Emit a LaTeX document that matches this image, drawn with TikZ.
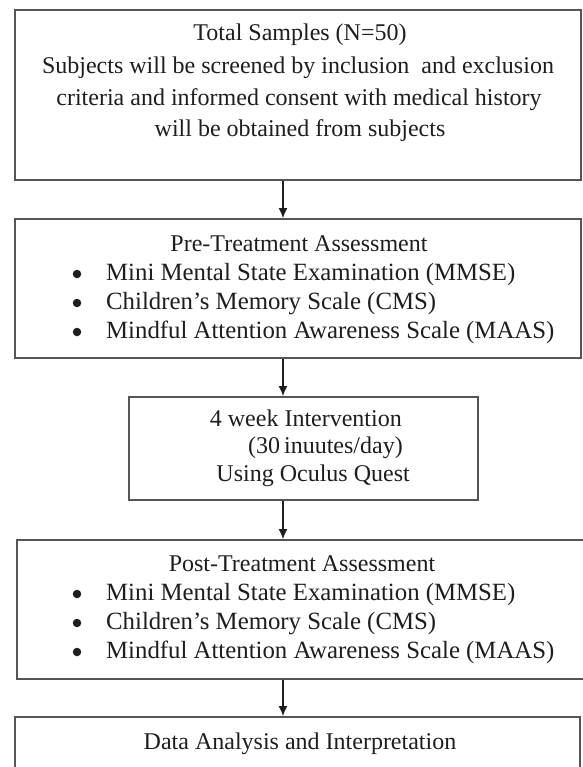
\documentclass[tikz,border=0pt]{standalone}
\usepackage{fontspec}
\setmainfont{Liberation Serif}
\usetikzlibrary{arrows.meta}
\definecolor{boxgray}{RGB}{85,85,85}
\definecolor{txtcol}{RGB}{30,30,30}
\begin{document}
\begin{tikzpicture}[x=1pt,y=-1pt,
  box/.style={draw=boxgray, line width=1.8pt, fill=white, inner sep=0pt},
  txt/.style={font=\fontsize{24}{28}\selectfont, text=txtcol, inner sep=0pt},
  btxt/.style={font=\fontsize{24.8}{28}\selectfont, text=txtcol, inner sep=0pt},
  bul/.style={circle, fill=txtcol, minimum size=8.5pt, inner sep=0pt},
  arr/.style={draw=txtcol, line width=1.3pt, -{Latex[length=10pt,width=9pt]}}]
\fill[white] (0,0) rectangle (582,767);
\useasboundingbox (0,0) rectangle (582,767);
% boxes
\node[box, minimum width=566pt, minimum height=170pt] (b1) at (298,95) {};
\node[box, minimum width=566pt, minimum height=139pt] (b2) at (298,288.5) {};
\node[box, minimum width=349pt, minimum height=103pt] (b3) at (303.5,448.5) {};
\node[box, minimum width=567pt, minimum height=139pt] (b4) at (300.5,609.5) {};
\node[box, minimum width=565pt, minimum height=80pt] (b5) at (297.5,757) {};
% box 1 text
\node[txt, anchor=base] (t11) at (300,41) {Total Samples (N=50)};
\node[txt, anchor=base] (t12) at (298,74) {Subjects will be screened by inclusion\ \ and exclusion};
\node[txt, anchor=base] (t13) at (299,106) {criteria and informed consent with medical history};
\node[txt, anchor=base] (t14) at (300,137) {will be obtained from subjects};
% box 2 text
\node[txt, anchor=base] (t21) at (299,251) {Pre-Treatment Assessment};
\node[bul] (u21) at (77,274) {};
\node[btxt, anchor=base west] (t22) at (106,280) {Mini Mental State Examination (MMSE)};
\node[bul] (u22) at (77,303) {};
\node[btxt, anchor=base west] (t23) at (106,309) {Children's Memory Scale (CMS)};
\node[bul] (u23) at (77,332) {};
\node[btxt, anchor=base west] (t24) at (106,338) {Mindful Attention Awareness Scale (MAAS)};
% box 3 text
\node[txt, anchor=base east] (t31) at (402,426) {4 week Intervention};
\node[txt, anchor=base east] (t32) at (403,453) {(30\,inuutes/day)};
\node[txt, anchor=base east] (t33) at (410,481) {Using Oculus Quest};
% box 4 text
\node[txt, anchor=base] (t41) at (302,571) {Post-Treatment Assessment};
\node[bul] (u41) at (77,594) {};
\node[btxt, anchor=base west] (t42) at (106,600) {Mini Mental State Examination (MMSE)};
\node[bul] (u42) at (77,623) {};
\node[btxt, anchor=base west] (t43) at (106,629) {Children's Memory Scale (CMS)};
\node[bul] (u43) at (77,652) {};
\node[btxt, anchor=base west] (t44) at (106,658) {Mindful Attention Awareness Scale (MAAS)};
% box 5 text
\node[txt, anchor=base] (t51) at (300,749) {Data Analysis and Interpretation};
% arrows
\coordinate (ax) at (283,0);
\draw[arr] (b1.south -| ax) -- (b2.north -| ax);
\draw[arr] (b2.south -| ax) -- (b3.north -| ax);
\draw[arr] (b3.south -| ax) -- (b4.north -| ax);
\draw[arr] (b4.south -| ax) -- (b5.north -| ax);
\end{tikzpicture}
\end{document}
